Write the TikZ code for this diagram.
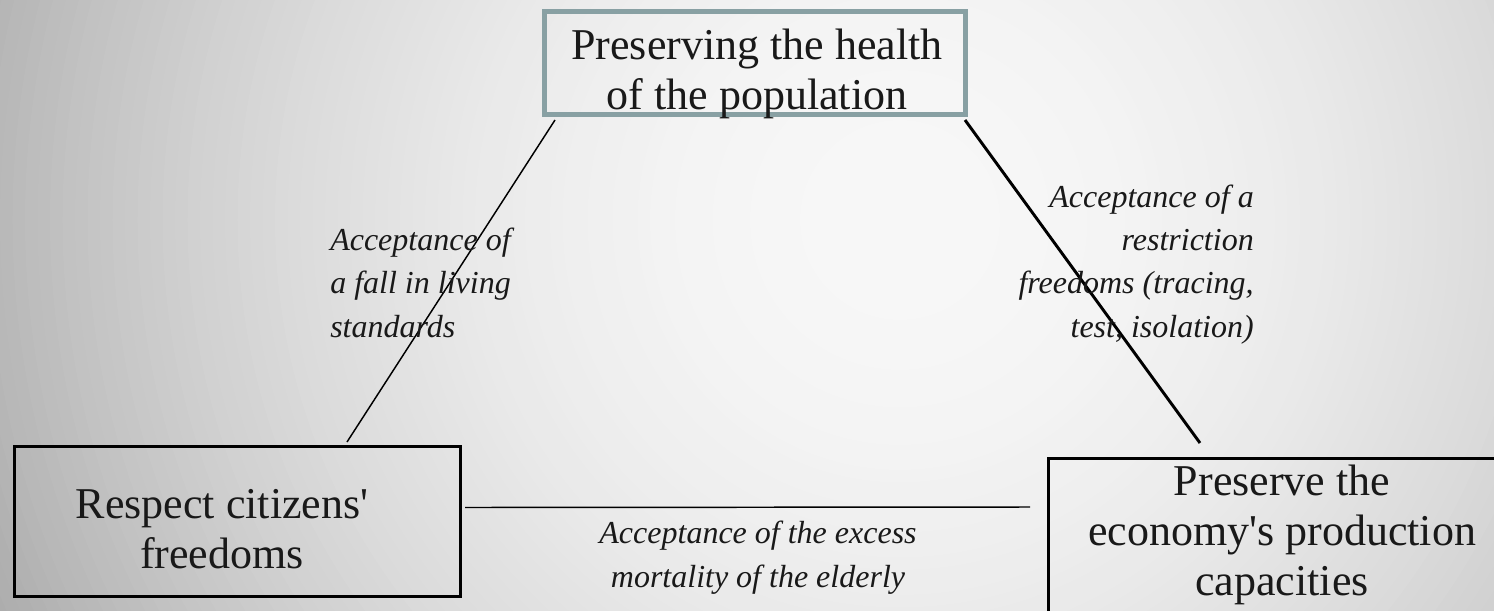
\documentclass[tikz,border=0pt]{standalone}
\usepackage{fontspec}
\setmainfont{Liberation Serif}
\newfontfamily\gar{Liberation Serif}
\usetikzlibrary{calc}
\definecolor{topborder}{HTML}{88A0A3}
\tikzset{
  boxtext/.style={font=\gar\fontsize{33}{37.5}\selectfont, align=center, inner sep=0pt, text=black!90},
  labeltext/.style={font=\gar\itshape\fontsize{24}{32.5}\selectfont, inner sep=0pt, text=black!90},
  thinline/.style={line width=1.1pt, black},
  thickline/.style={line width=2.2pt, black}
}
\begin{document}
\begin{tikzpicture}[x=0.75pt,y=-0.75pt]
\useasboundingbox (0,0) rectangle (1494,610);
\begin{scope}
\clip (0,0) rectangle (1494,610);
% radial background gradient, drawn as concentric discs
\foreach \k in {0,...,79} {
  \pgfmathsetmacro\rr{1000*(1-\k/80)}
  \pgfmathsetmacro\gv{0.97-0.3*(\rr/1000)^2}
  \definecolor{bgtmp}{gray}{\gv}
  \fill[bgtmp] (900,220) circle ({\rr*0.75pt});
}
% boxes
\node[draw=topborder, line width=3.75pt, minimum width={421*0.75pt}, minimum height={103*0.75pt}, inner sep=0pt] (top) at (755,63) {};
\node[draw=black, line width=2.25pt, minimum width={446*0.75pt}, minimum height={150*0.75pt}, inner sep=0pt] (left) at (237.5,521.5) {};
\node[draw=black, line width=2.25pt, minimum width={467*0.75pt}, minimum height={170*0.75pt}, inner sep=0pt] (right) at (1282,543.5) {};
% box texts (anchor base = baseline of last line)
\node[boxtext, anchor=base] (toptext) at (757,109) {Preserving the health\\of the population};
\node[boxtext, anchor=base] (lefttext) at (222,568) {Respect citizens'\\freedoms};
\node[boxtext, anchor=base] (righttext) at (1282,595) {Preserve the\\economy's production\\capacities};
% connectors
\draw[thinline] ($(top.south west)+(13,3)$) -- ($(left.north west)+(334,-3)$);
\draw[thickline] ($(top.south east)+(-3,3)$) -- ($(right.north west)+(153,-14)$);
\draw[thinline] ($(left.east)+(3,-14)$) -- ($(right.west)+(-17,-36.5)$);
% labels
\node[labeltext, align=left, anchor=base west] (lab1) at (330,337) {Acceptance of\\a fall in living\\standards};
\node[labeltext, align=right, anchor=base east] (lab2) at (1254,337) {Acceptance of a\\restriction\\freedoms (tracing,\\test, isolation)};
\node[labeltext, align=center, anchor=base] (lab3) at (758,587) {Acceptance of the excess\\mortality of the elderly};
\end{scope}
\end{tikzpicture}
\end{document}
